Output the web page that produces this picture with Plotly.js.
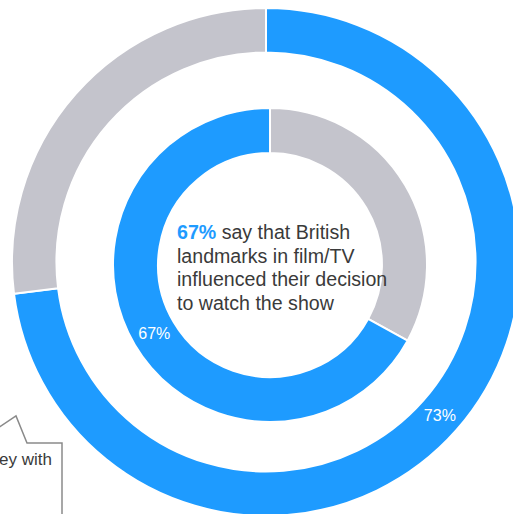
<!DOCTYPE html>
<html>
<head>
<meta charset="utf-8">
<script src="https://cdn.plot.ly/plotly-3.0.1.min.js"></script>
<style>
html,body{margin:0;padding:0;overflow:hidden;background:#fff;}
#chart{width:540px;height:540px;}
</style>
</head>
<body>
<div id="chart"></div>
<script>
// Data
const outerLabels = ["Yes", "No"];
const outerValues = [73, 27];
const innerLabels = ["No", "Yes"];
const innerValues = [33, 67];
const centerPct = "67%";
const centerText = ["say that British", "landmarks in film/TV", "influenced their decision", "to watch the show"];
const calloutText = "ey with";

const BLUE = "#1e9bff";
const GRAY = "#c4c4cc";
const FONT = "Liberation Sans, Arial, sans-serif";
const W = 540, H = 540;
const px = x => x / W;
const py = y => (H - y) / H;

const outer = {
  type: "pie",
  labels: outerLabels,
  values: outerValues,
  sort: false,
  direction: "clockwise",
  rotation: 0,
  hole: 0.825,
  marker: {colors: [BLUE, GRAY], line: {color: "#ffffff", width: 2}},
  textinfo: "text",
  text: ["73%", ""],
  textposition: "inside",
  insidetextorientation: "horizontal",
  textfont: {color: "#ffffff", size: 16, family: FONT},
  domain: {x: [px(12), px(520)], y: [py(516), py(8)]},
  showlegend: false,
  hoverinfo: "none"
};

const inner = {
  type: "pie",
  labels: innerLabels,
  values: innerValues,
  sort: false,
  direction: "clockwise",
  rotation: 0,
  hole: 0.713,
  marker: {colors: [GRAY, BLUE], line: {color: "#ffffff", width: 2}},
  textinfo: "text",
  text: ["", "67%"],
  textposition: "inside",
  insidetextorientation: "horizontal",
  textfont: {color: "#ffffff", size: 16, family: FONT},
  domain: {x: [px(113), px(427)], y: [py(422), py(108)]},
  showlegend: false,
  hoverinfo: "none"
};

const lineYs = [232, 255.7, 279.4, 303];
const annotations = centerText.map((t, i) => ({
  xref: "paper", yref: "paper",
  x: px(175), y: py(lineYs[i]),
  xanchor: "left", yanchor: "middle",
  align: "left",
  showarrow: false,
  text: (i === 0 ? "<b style='color:" + BLUE + "'>" + centerPct + "</b> " : "") + t,
  font: {size: 19.6, color: "#3a3a3a", family: FONT}
}));
annotations.push({
  xref: "paper", yref: "paper",
  x: px(-3), y: py(459),
  xanchor: "left", yanchor: "middle",
  align: "left",
  showarrow: false,
  text: calloutText,
  font: {size: 17, color: "#3a3a3a", family: FONT}
});

const layout = {
  width: W, height: H,
  margin: {l: 0, r: 0, t: 0, b: 0},
  paper_bgcolor: "#ffffff",
  showlegend: false,
  annotations: annotations,
  shapes: [
    {
      type: "path",
      xref: "paper", yref: "paper",
      path: "M " + px(-2) + " " + py(428) + " L " + px(16) + " " + py(416) +
            " L " + px(27) + " " + py(443) + " L " + px(62) + " " + py(443) +
            " L " + px(62) + " " + py(560),
      line: {color: "#8a8a8a", width: 1.5}
    }
  ]
};

Plotly.newPlot("chart", [outer, inner], layout, {displayModeBar: false, staticPlot: true});
</script>
</body>
</html>
